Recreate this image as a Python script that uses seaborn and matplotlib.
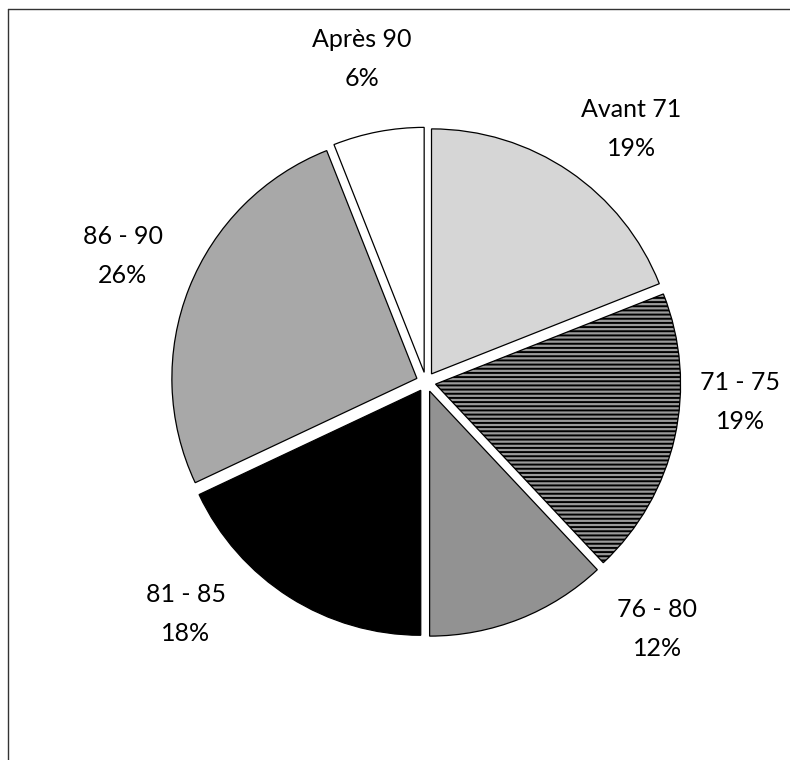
import matplotlib
matplotlib.use("Agg")
import matplotlib.pyplot as plt
from matplotlib.lines import Line2D
import seaborn as sns

# Répartition par période
categories = ["Avant 71", "71 - 75", "76 - 80", "81 - 85", "86 - 90", "Après 90"]
shares = [19, 19, 12, 18, 26, 6]

# Slice styling (fill, hatch) in drawing order
fills = ["#d6d6d6", "#9a9a9a", "#929292", "#000000", "#a8a8a8", "#ffffff"]
hatches = [None, "----", None, None, None, None]

# Label anchors in data units (pie radius = 1)
label_xy = [(0.837, 1.033), (1.282, -0.082), (0.943, -1.008), (-0.980, -0.947),
            (-1.237, 0.514), (-0.261, 1.318)]

sns.set_theme(style="white")
plt.rcParams["font.family"] = ["Lato", "DejaVu Sans"]
plt.rcParams["hatch.linewidth"] = 1.4
plt.rcParams["hatch.color"] = "black"

W, H, DPI = 790, 760, 100
R = 245.0          # pie radius in pixels
CX, CY = 426, 382  # pie centre in pixels (from top-left)

fig = plt.figure(figsize=(W / DPI, H / DPI), dpi=DPI)
ax = fig.add_axes([0, 0, 1, 1])

wedges, _ = ax.pie(
    shares,
    startangle=90,
    counterclock=False,
    explode=[0.04] * len(shares),
    colors=fills,
    wedgeprops=dict(edgecolor="black", linewidth=0.9),
)
for w, h in zip(wedges, hatches):
    if h:
        w.set_hatch(h)

ax.set_xlim(-CX / R, (W - CX) / R)
ax.set_ylim(-(H - CY) / R, CY / R)
ax.set_aspect("auto")
ax.axis("off")

for name, val, (lx, ly) in zip(categories, shares, label_xy):
    ax.text(lx, ly, f"{name}\n{val}%", ha="center", va="center",
            fontsize=18, color="black", linespacing=1.85)

# Frame lines along the top and left edges
fig.add_artist(Line2D([8 / W, 1.0], [1 - 9 / H, 1 - 9 / H],
                      transform=fig.transFigure, color="#333333", lw=1.0))
fig.add_artist(Line2D([8 / W, 8 / W], [1 - 9 / H, 0.0],
                      transform=fig.transFigure, color="#333333", lw=1.0))

fig.savefig("out.png", dpi=DPI, facecolor="white")
